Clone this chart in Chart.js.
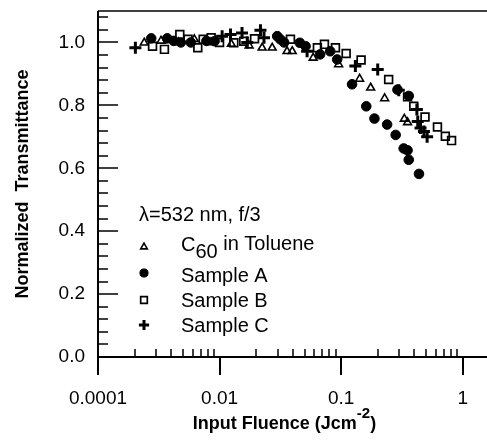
<!DOCTYPE html>
<html>
<head>
<meta charset="utf-8">
<script src="https://cdn.jsdelivr.net/npm/chart.js@4.4.1/dist/chart.umd.min.js"></script>
<style>
    html, body { margin: 0; padding: 0; background: #fff; }
    #wrap { width: 487px; height: 441px; }
</style>
</head>
<body>
<div id="wrap"><canvas id="grafico" width="487" height="441"></canvas></div>
<script>
// Datos (fluencia en J/cm², transmitancia normalizada)
const c60X = [0.0024, 0.0033, 0.0046, 0.0062, 0.0085, 0.0125, 0.0175, 0.0224, 0.0271, 0.0359, 0.0396, 0.0589, 0.0954, 0.142, 0.175, 0.228, 0.331, 0.352];
const c60Y = [0.999, 1.005, 1.0, 1.01, 1.0, 0.995, 0.99, 0.983, 0.983, 0.972, 0.972, 0.951, 0.93, 0.884, 0.856, 0.822, 0.757, 0.746];

const sampleAX = [0.00274, 0.00371, 0.0042, 0.0048, 0.0058, 0.0078, 0.0091, 0.0298, 0.0316, 0.034, 0.0457, 0.051, 0.0672, 0.0813, 0.0928, 0.123, 0.161, 0.188, 0.239, 0.281, 0.291, 0.327, 0.352, 0.36, 0.36, 0.437];
const sampleAY = [1.013, 1.013, 1.005, 1.0, 1.0, 1.005, 1.004, 1.02, 1.01, 1.0, 0.999, 0.988, 0.962, 0.972, 0.946, 0.867, 0.797, 0.758, 0.739, 0.706, 0.85, 0.663, 0.657, 0.627, 0.83, 0.582];

const sampleBX = [0.00281, 0.00352, 0.00471, 0.0055, 0.00662, 0.00733, 0.00853, 0.01, 0.0131, 0.0158, 0.0194, 0.0383, 0.0638, 0.0729, 0.0898, 0.11, 0.146, 0.246, 0.352, 0.396, 0.49, 0.62, 0.72, 0.81];
const sampleBY = [0.988, 0.978, 1.025, 1.01, 0.983, 1.01, 1.015, 1.0, 0.999, 1.004, 1.012, 1.01, 0.983, 0.994, 0.983, 0.965, 0.944, 0.882, 0.827, 0.797, 0.763, 0.731, 0.702, 0.688];

const sampleCX = [0.00203, 0.0105, 0.0123, 0.0153, 0.0169, 0.0217, 0.0232, 0.0525, 0.131, 0.2, 0.298, 0.42, 0.427, 0.45, 0.48, 0.51];
const sampleCY = [0.983, 1.02, 1.025, 1.03, 1.0, 1.039, 1.015, 0.972, 0.925, 0.914, 0.848, 0.787, 0.749, 0.728, 0.717, 0.70];

// Marcas de los ejes (la figura original rotula la primera década como "0.0001")
const xTickValues = [0.001, 0.01, 0.1, 1];
const xTickLabels = ['0.0001', '0.01', '0.1', '1'];
const yTickValues = [0, 0.2, 0.4, 0.6, 0.8, 1.0];
const yTickLabels = ['0.0', '0.2', '0.4', '0.6', '0.8', '1.0'];

const FONT = "'Liberation Sans', Arial, sans-serif";

function toPoints(xs, ys) {
    return xs.map((x, i) => ({ x: x, y: ys[i] }));
}

// Estilos de los marcadores (también usados en la leyenda)
const markers = {
    c60: { pointStyle: 'triangle', radius: 4.5, borderWidth: 1.6, fill: 'rgba(0,0,0,0)' },
    a:   { pointStyle: 'circle',   radius: 4.8, borderWidth: 1,   fill: '#000' },
    b:   { pointStyle: 'rect',     radius: 5.5, borderWidth: 1.7, fill: 'rgba(0,0,0,0)' },
    c:   { pointStyle: 'cross',    radius: 6,   borderWidth: 3,   fill: '#000' }
};

function dataset(label, xs, ys, m) {
    return {
        label: label,
        data: toPoints(xs, ys),
        pointStyle: m.pointStyle,
        pointRadius: m.radius,
        pointBorderWidth: m.borderWidth,
        pointBackgroundColor: m.fill,
        pointBorderColor: '#000',
        showLine: false
    };
}

// Ejes, marcas menores y marco dibujados a mano
const framePlugin = {
    id: 'frame',
    afterDraw(chart) {
        const { ctx, chartArea: a } = chart;
        const xs = chart.scales.x, ys = chart.scales.y;
        ctx.save();
        ctx.strokeStyle = '#000';
        ctx.lineWidth = 1.5;
        ctx.beginPath();
        ctx.moveTo(a.left, a.top); ctx.lineTo(a.right, a.top);
        ctx.stroke();

        ctx.lineWidth = 2;
        ctx.beginPath();
        ctx.moveTo(a.left, a.top); ctx.lineTo(a.left, a.bottom);
        ctx.moveTo(a.left - 1, a.bottom); ctx.lineTo(a.right, a.bottom);
        ctx.stroke();

        // x: mayores hacia abajo, menores hacia dentro
        ctx.lineWidth = 2;
        ctx.beginPath();
        xTickValues.forEach(v => {
            const px = Math.round(xs.getPixelForValue(v));
            ctx.moveTo(px, a.bottom); ctx.lineTo(px, a.bottom + 18);
        });
        ctx.stroke();
        ctx.lineWidth = 1.5;
        ctx.beginPath();
        for (let e = -3; e <= 0; e++) {
            for (let k = 2; k <= 9; k++) {
                const v = k * Math.pow(10, e);
                if (v > xs.max) continue;
                const px = Math.round(xs.getPixelForValue(v));
                ctx.moveTo(px, a.bottom); ctx.lineTo(px, a.bottom - 8);
            }
        }
        ctx.stroke();

        // y: marcas hacia dentro
        ctx.beginPath();
        for (let i = 0; i <= 27; i++) {
            const v = i * 0.04;
            if (v > ys.max) break;
            const py = Math.round(ys.getPixelForValue(v));
            const major = i % 5 === 0;
            ctx.moveTo(a.left, py); ctx.lineTo(a.left + (major ? 20 : 10), py);
        }
        ctx.stroke();

        // título del eje x con superíndice
        ctx.fillStyle = '#000';
        ctx.textBaseline = 'alphabetic';
        ctx.font = 'bold 18px ' + FONT;
        const t1 = 'Input Fluence (Jcm', sup = '-2', t2 = ')';
        const w1 = ctx.measureText(t1).width;
        ctx.font = 'bold 15px ' + FONT;
        const ws = ctx.measureText(sup).width;
        ctx.font = 'bold 18px ' + FONT;
        const w2 = ctx.measureText(t2).width;
        let tx = (a.left + a.right) / 2 - 8 - (w1 + ws + w2) / 2;
        const base = 428.5;
        ctx.textAlign = 'left';
        ctx.fillText(t1, tx, base); tx += w1;
        ctx.font = 'bold 15px ' + FONT;
        ctx.fillText(sup, tx, base - 11); tx += ws;
        ctx.font = 'bold 18px ' + FONT;
        ctx.fillText(t2, tx, base);
        ctx.restore();
    }
};

// Leyenda interna con subíndice en C60
const legendPlugin = {
    id: 'innerLegend',
    afterDraw(chart) {
        const ctx = chart.ctx;
        ctx.save();
        ctx.fillStyle = '#000';
        ctx.textAlign = 'left';
        ctx.textBaseline = 'alphabetic';
        ctx.font = '20px ' + FONT;
        ctx.fillText('\u03bb=532 nm, f/3', 139, 221);

        const rows = [
            { m: markers.c60, my: 247 },
            { m: markers.a,   my: 273 },
            { m: markers.b,   my: 300 },
            { m: markers.c,   my: 325 }
        ];
        rows.forEach(r => {
            ctx.strokeStyle = '#000';
            ctx.fillStyle = r.m.fill;
            ctx.lineWidth = r.m.borderWidth;
            Chart.helpers.drawPoint(ctx, {
                pointStyle: r.m.pointStyle,
                radius: r.m.radius * 0.85,
                rotation: 0,
                borderWidth: r.m.borderWidth
            }, 144, r.my);
        });

        ctx.fillStyle = '#000';
        ctx.font = '20px ' + FONT;
        ctx.fillText('C', 181, 251);
        const wc = ctx.measureText('C').width;
        ctx.fillText('60', 181 + wc, 258);
        const w60 = ctx.measureText('60').width;
        ctx.fillText(' in Toluene', 181 + wc + w60, 250);
        ctx.fillText('Sample A', 181, 281.5);
        ctx.fillText('Sample B', 181, 306.5);
        ctx.fillText('Sample C', 181, 331.5);
        ctx.restore();
    }
};

const ctxGrafico = document.getElementById('grafico').getContext('2d');
new Chart(ctxGrafico, {
    type: 'scatter',
    data: {
        datasets: [
            dataset('Sample B', sampleBX, sampleBY, markers.b),
            dataset('C60 in Toluene', c60X, c60Y, markers.c60),
            dataset('Sample A', sampleAX, sampleAY, markers.a),
            dataset('Sample C', sampleCX, sampleCY, markers.c)
        ]
    },
    options: {
        responsive: false,
        devicePixelRatio: 1,
        animation: false,
        layout: { autoPadding: false, padding: { top: 11, right: 0, left: 0, bottom: 0 } },
        plugins: {
            legend: { display: false },
            tooltip: { enabled: false }
        },
        scales: {
            x: {
                type: 'logarithmic',
                min: 0.001,
                max: 1.585,
                border: { display: false },
                grid: { display: false, drawTicks: false },
                afterBuildTicks: axis => { axis.ticks = xTickValues.map(v => ({ value: v })); },
                afterFit: axis => {
                    axis.height = 84;
                    axis.paddingLeft = 0;
                    axis.paddingRight = 0;
                },
                ticks: {
                    autoSkip: false,
                    maxRotation: 0,
                    padding: 30,
                    color: '#000',
                    font: { family: FONT, size: 19 },
                    callback: (value, index) => xTickLabels[index]
                }
            },
            y: {
                type: 'linear',
                min: 0,
                max: 1.1,
                border: { display: false },
                grid: { display: false, drawTicks: false },
                afterBuildTicks: axis => { axis.ticks = yTickValues.map(v => ({ value: v })); },
                afterFit: axis => {
                    axis.width = 98;
                    axis.paddingTop = 0;
                    axis.paddingBottom = 0;
                },
                title: {
                    display: true,
                    text: 'Normalized  Transmittance',
                    color: '#000',
                    font: { family: FONT, size: 18, weight: 'bold' },
                    padding: { top: 12, bottom: 0 }
                },
                ticks: {
                    autoSkip: false,
                    padding: 13,
                    color: '#000',
                    font: { family: FONT, size: 19 },
                    callback: (value, index) => yTickLabels[index]
                }
            }
        }
    },
    plugins: [framePlugin, legendPlugin]
});
</script>
</body>
</html>
